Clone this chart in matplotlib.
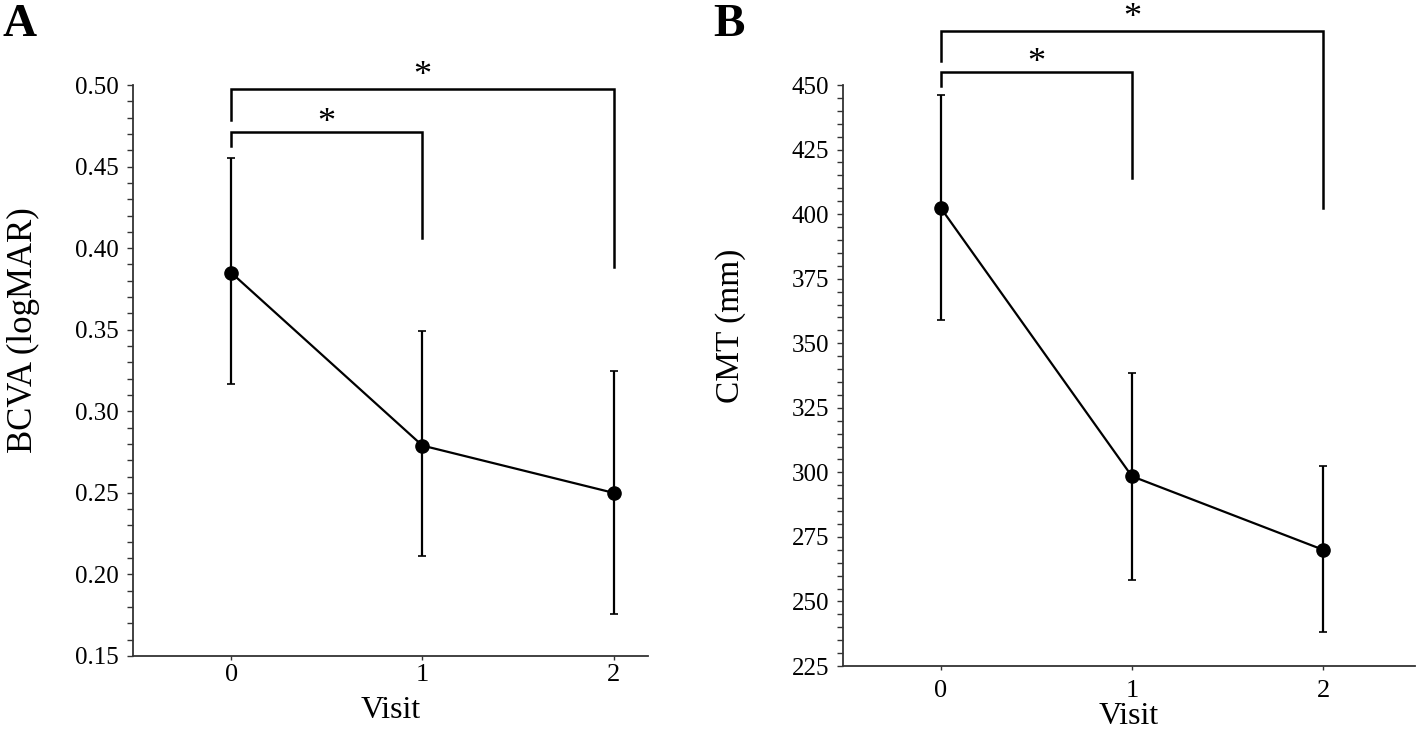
import matplotlib.pyplot as plt
from matplotlib.ticker import MultipleLocator

plt.rcParams['font.family'] = ['Liberation Serif', 'DejaVu Serif']

visits = [0, 1, 2]

# Panel A - BCVA (logMAR)
bcva_mean = [0.385, 0.279, 0.250]
bcva_upper = [0.455, 0.349, 0.325]
bcva_lower = [0.317, 0.211, 0.176]

# Panel B - CMT (mm)
cmt_mean = [402.5, 298.5, 270.0]
cmt_upper = [446.0, 338.5, 302.5]
cmt_lower = [359.0, 258.5, 238.0]

# significance brackets: (x0, x1, y, left foot, right foot)
brackets_a = [(0, 2, 0.4975, 0.4785, 0.3885), (0, 1, 0.471, 0.4625, 0.4065)]
brackets_b = [(0, 2, 471.0, 459.3, 402.5), (0, 1, 455.0, 449.6, 414.0)]
star_offset = [3, 0]  # pontos acima da barra

fig = plt.figure(figsize=(14.18, 7.31), dpi=100)
fig.patch.set_facecolor('white')

ax1 = fig.add_axes([0.0938, 0.1026, 0.3632, 0.7811])
ax2 = fig.add_axes([0.5945, 0.0889, 0.4034, 0.7948])


def desenhar(ax, media, sup, inf, brackets, ylim, ymaj, ymin, fmt, ylabel, xlim,
             xpad, labelpad, ylabel_size):
    err = [[m - l for m, l in zip(media, inf)], [u - m for m, u in zip(media, sup)]]
    ax.errorbar(visits, media, yerr=err, color='black', lw=1.6, marker='o',
                markersize=9.5, elinewidth=1.6, capsize=3, capthick=1.2, zorder=3)

    for (x0, x1, y, pe, pd), off in zip(brackets, star_offset):
        ax.plot([x0, x0, x1, x1], [pe, y, y, pd], color='black', lw=1.8,
                clip_on=False, solid_joinstyle='miter')
        ax.annotate('*', xy=((x0 + x1) / 2, y), xytext=(0, off),
                    textcoords='offset points', ha='center', va='baseline',
                    fontsize=26, annotation_clip=False)

    ax.set_ylim(*ylim)
    ax.set_xlim(*xlim)
    ax.yaxis.set_major_locator(MultipleLocator(ymaj))
    ax.yaxis.set_minor_locator(MultipleLocator(ymin))
    ax.yaxis.set_major_formatter(fmt)
    ax.set_xticks(visits)

    for s in ['top', 'right']:
        ax.spines[s].set_visible(False)
    for s in ['left', 'bottom']:
        ax.spines[s].set_color('#333333')
        ax.spines[s].set_linewidth(1.3)

    ax.tick_params(axis='y', which='both', direction='out', length=4, width=1,
                   color='#333333', labelsize=18, pad=6)
    ax.tick_params(axis='x', direction='out', length=3, width=1,
                   color='#333333', labelsize=19, pad=xpad)
    ax.set_xlabel('Visit', fontsize=23, labelpad=labelpad)
    ax.set_ylabel(ylabel, fontsize=ylabel_size)


desenhar(ax1, bcva_mean, bcva_upper, bcva_lower, brackets_a, (0.15, 0.50),
         0.05, 0.01, '{x:.2f}', 'BCVA (logMAR)', (-0.513, 2.18), 3, 7, 25)
desenhar(ax2, cmt_mean, cmt_upper, cmt_lower, brackets_b, (225, 450),
         25, 5, '{x:.0f}', 'CMT (mm)', (-0.51, 2.48), 7, 0, 24)

ax1.yaxis.set_label_coords(-0.18, 0.57)
ax2.yaxis.set_label_coords(-0.17, 0.585)

fig.text(0.002, 0.995, 'A', fontsize=34, fontweight='bold', va='top', ha='left')
fig.text(0.503, 0.995, 'B', fontsize=34, fontweight='bold', va='top', ha='left')

plt.savefig('out.png', dpi=100)
plt.close()
